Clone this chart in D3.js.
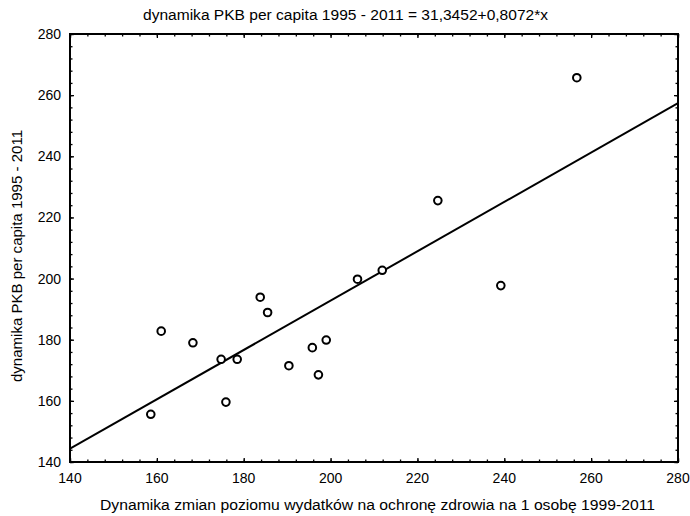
<!DOCTYPE html>
<html>
<head>
<meta charset="utf-8">
<script src="https://cdn.jsdelivr.net/npm/d3@7"></script>
<style>
  body { margin: 0; background: #fff; }
  svg { display: block; font-family: "Liberation Sans", Arial, sans-serif; }
</style>
</head>
<body>
<svg width="690" height="516"></svg>
<script>
// wydatki na ochrone zdrowia (x) vs PKB per capita (y)
var xValues = [158.6, 161.0, 168.3, 174.8, 175.9, 178.5, 183.8, 185.5, 190.4, 195.8, 197.2, 199.0, 206.2, 211.9, 224.7, 239.2, 256.7];
var yValues = [155.6, 182.8, 179.0, 173.6, 159.6, 173.6, 193.9, 188.9, 171.5, 177.4, 168.5, 179.9, 199.8, 202.7, 225.5, 197.7, 265.7];
var xTicks = [140, 160, 180, 200, 220, 240, 260, 280];
var yTicks = [140, 160, 180, 200, 220, 240, 260, 280];
var intercept = 31.3452, slope = 0.8072;

var titleText = "dynamika PKB per capita 1995 - 2011 = 31,3452+0,8072*x";
var xLabel = "Dynamika zmian poziomu wydatków na ochronę zdrowia na 1 osobę 1999-2011";
var yLabel = "dynamika PKB per capita 1995 - 2011";

var svg = d3.select("svg");
var pl = 70, pr = 678, pt = 34, pb = 462;

var x = d3.scaleLinear().domain([140, 280]).range([pl, pr]);
var y = d3.scaleLinear().domain([140, 280]).range([pb, pt]);

var minor = d3.range(140, 281, 4);

// ticks pointing inward on all four sides
function tickAxis(axis, scale, vals, len, tr) {
  svg.append("g").attr("transform", tr)
    .call(axis(scale).tickValues(vals).tickSize(len).tickFormat(""))
    .call(function(g){ g.select(".domain").remove(); })
    .selectAll("line").attr("stroke", "#000").attr("stroke-width", 1.3);
}
tickAxis(d3.axisTop, x, minor, 2.5, "translate(0," + pb + ")");
tickAxis(d3.axisTop, x, xTicks, 4, "translate(0," + pb + ")");
tickAxis(d3.axisBottom, x, minor, 2.5, "translate(0," + pt + ")");
tickAxis(d3.axisBottom, x, xTicks, 4, "translate(0," + pt + ")");
tickAxis(d3.axisRight, y, minor, 2.5, "translate(" + pl + ",0)");
tickAxis(d3.axisRight, y, yTicks, 4, "translate(" + pl + ",0)");
tickAxis(d3.axisLeft, y, minor, 2.5, "translate(" + pr + ",0)");
tickAxis(d3.axisLeft, y, yTicks, 4, "translate(" + pr + ",0)");

svg.append("rect")
  .attr("x", pl).attr("y", pt)
  .attr("width", pr - pl).attr("height", pb - pt)
  .attr("fill", "none").attr("stroke", "#000").attr("stroke-width", 2);

// tick labels
svg.selectAll(".xl").data(xTicks).enter().append("text")
  .attr("x", function(d){ return x(d); })
  .attr("y", pb + 21)
  .attr("text-anchor", "middle")
  .attr("font-size", 14)
  .text(function(d){ return d; });

svg.selectAll(".yl").data(yTicks).enter().append("text")
  .attr("x", pl - 9)
  .attr("y", function(d){ return y(d) + 5; })
  .attr("text-anchor", "end")
  .attr("font-size", 14)
  .text(function(d){ return d; });

// regression line
svg.append("clipPath").attr("id", "plot")
  .append("rect").attr("x", pl).attr("y", pt)
  .attr("width", pr - pl).attr("height", pb - pt);

svg.append("line")
  .attr("clip-path", "url(#plot)")
  .attr("x1", x(140)).attr("y1", y(intercept + slope * 140))
  .attr("x2", x(280)).attr("y2", y(intercept + slope * 280))
  .attr("stroke", "#000").attr("stroke-width", 2);

svg.selectAll("circle").data(xValues).enter().append("circle")
  .attr("cx", function(d){ return x(d); })
  .attr("cy", function(d, i){ return y(yValues[i]); })
  .attr("r", 3.8)
  .attr("fill", "#fff")
  .attr("stroke", "#000")
  .attr("stroke-width", 2);

svg.append("text")
  .attr("x", 345.5).attr("y", 20)
  .attr("text-anchor", "middle")
  .attr("font-size", 14)
  .attr("textLength", 405).attr("lengthAdjust", "spacingAndGlyphs")
  .text(titleText);

svg.append("text")
  .attr("x", 377.5).attr("y", 510)
  .attr("text-anchor", "middle")
  .attr("font-size", 14)
  .attr("textLength", 555).attr("lengthAdjust", "spacingAndGlyphs")
  .text(xLabel);

svg.append("text")
  .attr("transform", "translate(22,256) rotate(-90)")
  .attr("text-anchor", "middle")
  .attr("font-size", 14)
  .attr("textLength", 252).attr("lengthAdjust", "spacingAndGlyphs")
  .text(yLabel);
</script>
</body>
</html>
